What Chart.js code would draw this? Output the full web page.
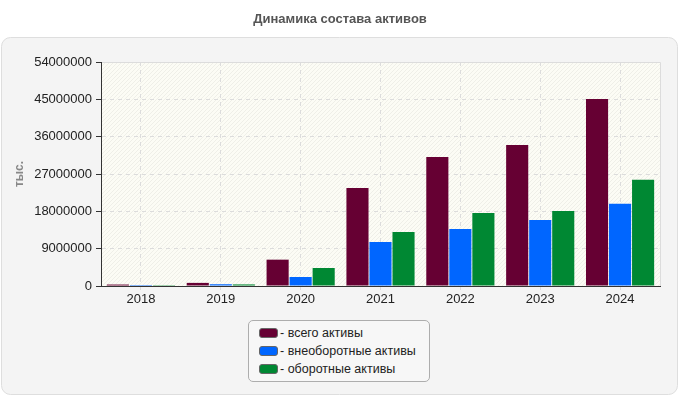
<!DOCTYPE html>
<html lang="ru">
<head>
<meta charset="utf-8">
<script src="https://cdn.jsdelivr.net/npm/chart.js@4"></script>
<style>
    html, body { margin: 0; padding: 0; background: #fff; }
    body { width: 680px; height: 400px; position: relative; overflow: hidden; font-family: "Liberation Sans", Arial, sans-serif; }
    #chartBox { position: absolute; left: 0; top: 0; width: 680px; height: 400px; }
    #legend {
        position: absolute; left: 248px; top: 320px; width: 180px; height: 60px;
        border: 1px solid #adadad; border-radius: 5px; background: #f7f7f7;
        font-size: 12.5px; color: #222;
    }
    #legend div { position: absolute; left: 10px; height: 16px; line-height: 16px; white-space: nowrap; }
    #legend span.sw {
        display: inline-block; width: 17px; height: 8px; border: 1px solid #666;
        border-radius: 3px; vertical-align: -1px; margin-right: 2px;
    }
</style>
</head>
<body>
<div id="chartBox"><canvas id="assetsChart" width="680" height="400"></canvas></div>
<div id="legend"></div>
<script>
    // Данные графика
    const years = ['2018', '2019', '2020', '2021', '2022', '2023', '2024'];
    const totalAssets = [350000, 750000, 6350000, 23650000, 31100000, 34000000, 45100000];
    const nonCurrentAssets = [230000, 420000, 2170000, 10600000, 13750000, 15900000, 19800000];
    const currentAssets = [200000, 380000, 4340000, 13000000, 17600000, 18100000, 25600000];
    const yTicks = [0, 9000000, 18000000, 27000000, 36000000, 45000000, 54000000];

    const seriesInfo = [
        { label: '- всего активы', data: totalAssets, color: '#660033' },
        { label: '- внеоборотные активы', data: nonCurrentAssets, color: '#0066ff' },
        { label: '- оборотные активы', data: currentAssets, color: '#008833' }
    ];

    // Фон панели, штриховка области графика и подписи
    const hatch = document.createElement('canvas');
    hatch.width = 4; hatch.height = 4;
    const hctx = hatch.getContext('2d');
    hctx.fillStyle = '#fcfcf5';
    hctx.fillRect(0, 0, 4, 4);
    hctx.strokeStyle = '#efefe8';
    hctx.lineWidth = 1;
    hctx.beginPath();
    hctx.moveTo(0, 4); hctx.lineTo(4, 0);
    hctx.moveTo(-1, 1); hctx.lineTo(1, -1);
    hctx.moveTo(3, 5); hctx.lineTo(5, 3);
    hctx.stroke();

    const panelPlugin = {
        id: 'panel',
        beforeDraw(chart) {
            const c = chart.ctx;
            const a = chart.chartArea;
            c.save();
            c.fillStyle = '#fff';
            c.fillRect(0, 0, chart.width, chart.height);
            c.beginPath();
            c.roundRect(1.5, 37.5, 676, 357, 9);
            c.fillStyle = '#f4f4f4';
            c.fill();
            c.strokeStyle = '#dedede';
            c.lineWidth = 1;
            c.stroke();
            c.fillStyle = c.createPattern(hatch, 'repeat');
            c.fillRect(a.left, a.top, a.right - a.left, a.bottom - a.top);
            c.strokeStyle = '#dcdcdc';
            c.beginPath();
            c.moveTo(a.left, a.top + 0.5); c.lineTo(a.right + 0.5, a.top + 0.5); c.lineTo(a.right + 0.5, a.bottom);
            c.stroke();
            // заголовок
            c.fillStyle = '#555';
            c.font = 'bold 13px "Liberation Sans", Arial, sans-serif';
            c.textAlign = 'center';
            c.textBaseline = 'middle';
            c.fillText('Динамика состава активов', 340, 19);
            // подпись оси Y
            c.translate(20, 174);
            c.rotate(-Math.PI / 2);
            c.fillStyle = '#888';
            c.font = 'bold 12px "Liberation Sans", Arial, sans-serif';
            c.fillText('тыс.', 0, 0);
            c.restore();
        }
    };

    const ctx = document.getElementById('assetsChart').getContext('2d');
    const assetsChart = new Chart(ctx, {
        type: 'bar',
        data: {
            labels: years,
            datasets: seriesInfo.map(s => ({
                label: s.label,
                data: s.data,
                backgroundColor: s.color,
                borderWidth: 0,
                categoryPercentage: 0.865,
                barPercentage: 0.96
            }))
        },
        options: {
            responsive: false,
            animation: false,
            layout: { padding: { left: 0, right: 20, top: 62, bottom: 0 } },
            plugins: {
                legend: { display: false },
                title: { display: false },
                tooltip: { enabled: false }
            },
            scales: {
                x: {
                    afterFit: scale => { scale.height = 114; },
                    grid: {
                        offset: false,
                        color: '#dcdcdc',
                        tickLength: 4,
                        tickColor: '#dcdcdc'
                    },
                    border: { color: '#333', width: 1, dash: [4, 4] },
                    ticks: {
                        padding: 2,
                        color: '#222',
                        font: { family: '"Liberation Sans", Arial, sans-serif', size: 13 }
                    }
                },
                y: {
                    min: 0,
                    max: 54000000,
                    afterFit: scale => { scale.width = 101; },
                    afterBuildTicks: scale => { scale.ticks = yTicks.map(v => ({ value: v })); },
                    grid: {
                        color: '#dcdcdc',
                        tickLength: 5,
                        tickColor: '#333',
                        tickBorderDash: [],
                        drawTicks: true
                    },
                    border: { color: '#333', width: 1, dash: [4, 4] },
                    ticks: {
                        padding: 4,
                        color: '#222',
                        callback: v => String(v),
                        font: { family: '"Liberation Sans", Arial, sans-serif', size: 13 }
                    }
                }
            }
        },
        plugins: [panelPlugin]
    });

    // Легенда
    const legendBox = document.getElementById('legend');
    seriesInfo.forEach((s, i) => {
        const row = document.createElement('div');
        row.style.top = (4 + i * 18) + 'px';
        row.innerHTML = '<span class="sw" style="background:' + s.color + '"></span>' + s.label;
        legendBox.appendChild(row);
    });
</script>
</body>
</html>
